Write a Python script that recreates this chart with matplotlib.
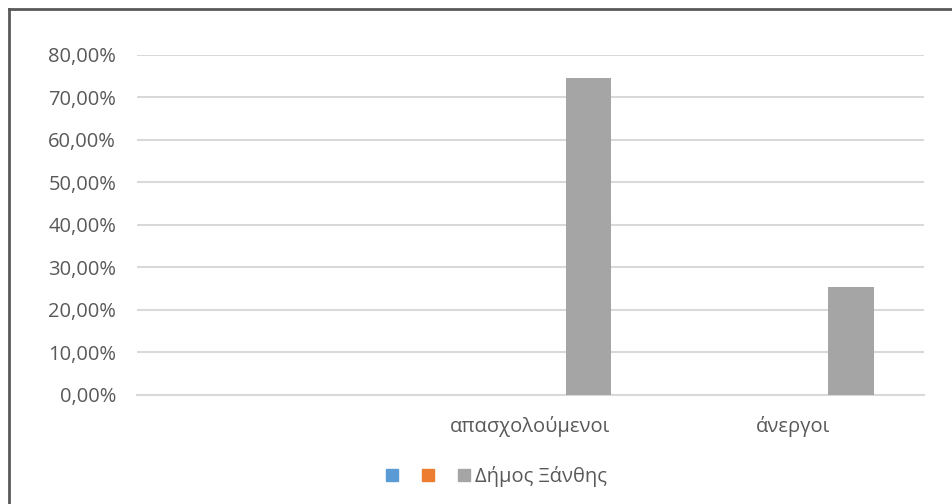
import matplotlib.pyplot as plt
from matplotlib.ticker import FuncFormatter
from matplotlib.lines import Line2D

plt.rcParams['font.family'] = ['Open Sans', 'DejaVu Sans']

categories = ['', 'απασχολούμενοι', 'άνεργοι']
series_names = ['', '', 'Δήμος Ξάνθης']
series_values = [
    [0, 0, 0],
    [0, 0, 0],
    [0, 0.746, 0.254],
]
colors = ['#5b9bd5', '#ed7d31', '#a5a5a5']
yticks = [0, 0.1, 0.2, 0.3, 0.4, 0.5, 0.6, 0.7, 0.8]

fig = plt.figure(figsize=(9.53, 5.04), dpi=100)
ax = fig.add_axes([0.1438, 0.2163, 0.8258, 0.6746])

x = list(range(len(categories)))
step = 0.221
width = 0.1735
for k, vals in enumerate(series_values):
    xs = [i + (k - 1) * step for i in x]
    ax.bar(xs, vals, width=width, color=colors[k], zorder=3)

ax.set_xlim(-0.5, len(categories) - 0.5)
ax.set_ylim(0, 0.8)
ax.set_yticks(yticks)
ax.yaxis.set_major_formatter(FuncFormatter(lambda v, p: f'{v*100:.2f}%'.replace('.', ',')))
ax.set_xticks(x)
ax.set_xticklabels(categories)
ax.tick_params(length=0, labelsize=14.5, colors='#595959')
ax.tick_params(axis='y', pad=15)
ax.tick_params(axis='x', pad=15)
ax.grid(axis='y', color='#d9d9d9', linewidth=1.5, zorder=0)
for s in ['top', 'right', 'left']:
    ax.spines[s].set_visible(False)
ax.spines['bottom'].set_color('#d9d9d9')
ax.spines['bottom'].set_linewidth(1.5)

handles = [Line2D([], [], marker='s', linestyle='none', markersize=8.5,
                  color=c) for c in colors]
fig.legend(handles, series_names, loc='center', bbox_to_anchor=(0.521, 0.054),
           ncol=3, frameon=False, fontsize=14.5, labelcolor='#595959',
           handlelength=0.6, handletextpad=0.25, columnspacing=0.95)

# chart border (top and left only)
fig.add_artist(Line2D([0.0094, 1.0], [0.982, 0.982], color='#595959', linewidth=2))
fig.add_artist(Line2D([0.0094, 0.0094], [0.0, 0.982], color='#595959', linewidth=2))

fig.savefig('out.png', dpi=100, facecolor='white')
